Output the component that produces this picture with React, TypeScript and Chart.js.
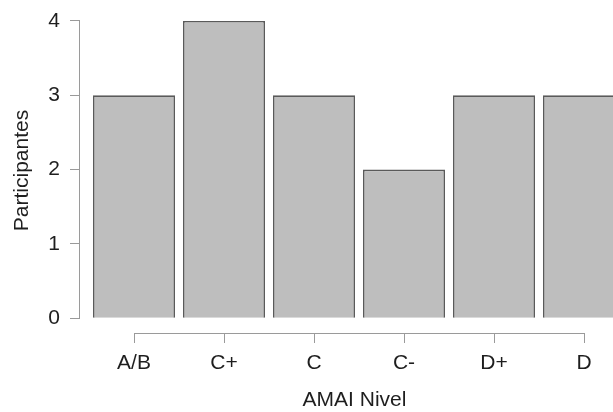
import React, { useEffect, useRef } from "react";
import { Chart, registerables } from "chart.js";

Chart.register(...registerables);

const categories = ["A/B", "C+", "C", "C-", "D+", "D"];
const participantes = [3, 4, 3, 2, 3, 3];
const yTicks = [0, 1, 2, 3, 4];

const FONT = "'Liberation Sans', Arial, Helvetica, sans-serif";
const AXIS_COLOR = "#9a9a9a";
const TEXT_COLOR = "#1e1e1e";

const rAxesPlugin = {
  id: "rAxes",
  afterDraw(chart: any) {
    const { ctx, chartArea, scales } = chart;
    const x = scales.x;
    const y = scales.y;
    ctx.save();
    ctx.strokeStyle = AXIS_COLOR;
    ctx.lineWidth = 1;
    ctx.beginPath();
    const lx = Math.round(chartArea.left) - 0.5;
    ctx.moveTo(lx, y.getPixelForValue(yTicks[0]));
    ctx.lineTo(lx, y.getPixelForValue(yTicks[yTicks.length - 1]));
    const by = Math.round(chartArea.bottom) + 0.5;
    ctx.moveTo(x.getPixelForValue(0), by);
    ctx.lineTo(x.getPixelForValue(categories.length - 1), by);
    ctx.stroke();
    ctx.restore();
  },
};

export default function App() {
  const ref = useRef<HTMLCanvasElement | null>(null);

  useEffect(() => {
    if (!ref.current) return;
    const chart = new Chart(ref.current, {
      type: "bar",
      data: {
        datasets: [
          {
            label: "Participantes",
            data: categories.map((c, i) => ({ x: i, y: participantes[i] })) as any,
            backgroundColor: "#bebebe",
            borderColor: "#5a5a5a",
            borderWidth: 1.6,
            categoryPercentage: 1,
            barPercentage: 82 / 90,
          },
        ],
      },
      options: {
        animation: false,
        responsive: false,
        maintainAspectRatio: false,
        layout: { padding: { top: 8, right: 11, left: 0, bottom: 0 } },
        plugins: { legend: { display: false }, tooltip: { enabled: false } },
        scales: {
          x: {
            type: "linear",
            offset: false,
            min: -0.6,
            max: 5.5,
            afterBuildTicks: (scale: any) => {
              scale.ticks = categories.map((_, i) => ({ value: i }));
            },
            afterFit: (scale: any) => {
              scale.height = 79;
              scale.paddingLeft = 0;
              scale.paddingRight = 0;
            },
            border: { display: false },
            grid: {
              offset: false,
              drawOnChartArea: false,
              drawTicks: true,
              tickLength: 10,
              color: AXIS_COLOR,
              lineWidth: 1,
            },
            ticks: {
              autoSkip: false,
              maxRotation: 0,
              padding: 8,
              color: TEXT_COLOR,
              font: { family: FONT, size: 21 },
              callback: (v: any) => categories[v as number] ?? "",
            },
            title: {
              display: true,
              text: "AMAI Nivel",
              color: TEXT_COLOR,
              font: { family: FONT, size: 21 },
              padding: { top: 0, bottom: -1 },
            },
          },
          y: {
            min: -0.2,
            max: 4.175,
            afterBuildTicks: (scale: any) => {
              scale.ticks = yTicks.map((v) => ({ value: v }));
            },
            afterFit: (scale: any) => {
              scale.width = 80;
              scale.paddingTop = 0;
              scale.paddingBottom = 0;
            },
            border: { display: false },
            grid: {
              drawOnChartArea: false,
              drawTicks: true,
              tickLength: 10,
              color: AXIS_COLOR,
              lineWidth: 1,
            },
            ticks: {
              padding: 10,
              color: TEXT_COLOR,
              font: { family: FONT, size: 21 },
            },
            title: {
              display: true,
              text: "Participantes",
              color: TEXT_COLOR,
              font: { family: FONT, size: 21 },
              padding: { top: 10, bottom: 0 },
            },
          },
        },
      },
      plugins: [rAxesPlugin],
    });
    return () => chart.destroy();
  }, []);

  return (
    <div
      style={{
        position: "fixed",
        left: 0,
        top: 0,
        width: 613,
        height: 412,
        overflow: "hidden",
        background: "#fff",
      }}
    >
      <canvas ref={ref} width={640} height={412} style={{ display: "block" }} />
    </div>
  );
}
